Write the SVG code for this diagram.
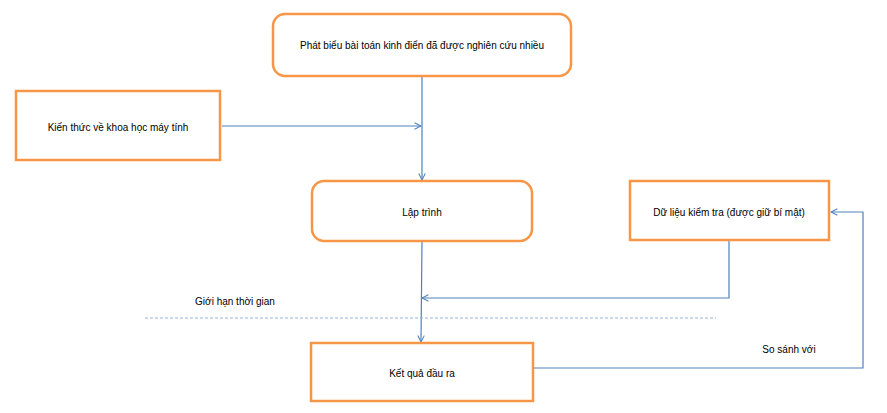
<svg xmlns="http://www.w3.org/2000/svg" width="887" height="413" viewBox="0 0 887 413">
<defs>
<style>
.box{fill:#fff;stroke:#F79646;stroke-width:2.5}
.t{font-family:"Liberation Sans",Arial,sans-serif;font-size:10px;fill:#000;text-anchor:middle;dominant-baseline:central}
.c{fill:none;stroke:#4F81BD;stroke-width:1.2}
</style>
<marker id="arr" viewBox="0 0 10 10" refX="9" refY="5" markerWidth="8" markerHeight="8" markerUnits="userSpaceOnUse" orient="auto">
<path d="M1,1 L9,5 L1,9" fill="none" stroke="#4F81BD" stroke-width="1.3"/>
</marker>
</defs>
<rect width="887" height="413" fill="#fff"/>
<g id="connectors">
<line class="c" x1="422" y1="77" x2="422" y2="180" marker-end="url(#arr)"/>
<line class="c" x1="222" y1="126" x2="421" y2="126" marker-end="url(#arr)"/>
<line class="c" x1="422" y1="242" x2="421" y2="342" marker-end="url(#arr)"/>
<polyline class="c" points="729,241 729,298 422,298" marker-end="url(#arr)"/>
<polyline class="c" points="534,368 863,368 863,212 831,212" marker-end="url(#arr)"/>
<line x1="145" y1="318" x2="716" y2="318" stroke="#95B3D7" stroke-width="1.2" stroke-dasharray="3,2"/>
</g>
<g id="n1"><rect class="box" x="273" y="14" width="298" height="62" rx="12"/><text class="t" x="422" y="45">Phát biểu bài toán kinh điển đã được nghiên cứu nhiều</text></g>
<g id="n2"><rect class="box" x="16" y="91" width="204" height="69"/><text class="t" x="118" y="127">Kiến thức về khoa học máy tính</text></g>
<g id="n3"><rect class="box" x="312" y="181" width="220" height="60" rx="12"/><text class="t" x="422" y="212">Lập trình</text></g>
<g id="n4"><rect class="box" x="630" y="181" width="199" height="59"/><text class="t" x="729" y="212">Dữ liệu kiểm tra (được giữ bí mật)</text></g>
<g id="n5"><rect class="box" x="311" y="343" width="222" height="58"/><text class="t" x="422" y="373">Kết quả đầu ra</text></g>
<g id="labels">
<text class="t" x="235" y="301">Giới hạn thời gian</text>
<text class="t" x="789" y="349">So sánh với</text>
</g>
</svg>
